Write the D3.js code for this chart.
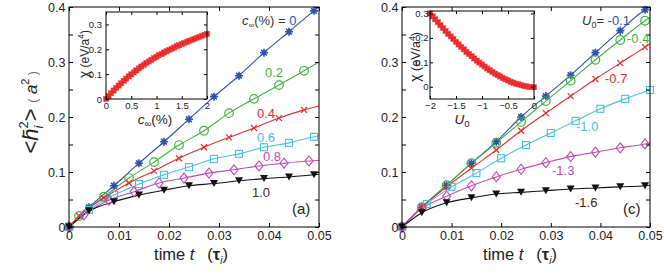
<!DOCTYPE html>
<html><head><meta charset="utf-8">
<script src="https://cdn.jsdelivr.net/npm/d3@7"></script>
<style>body{margin:0;background:#fff} text{font-family:"Liberation Sans",Arial,sans-serif}</style>
</head><body><svg id="c" width="664" height="275"></svg>
<script>
// ---------- data ----------
const xTicks = [0, 0.01, 0.02, 0.03, 0.04, 0.05];
const yTicks = [0, 0.1, 0.2, 0.3, 0.4];
const yMinorTicks = [0, 0.05, 0.1, 0.15, 0.2, 0.25, 0.3, 0.35, 0.4];

// panel (a): c_inf(%) series
const seriesLabelsA = ["0", "0.2", "0.4", "0.6", "0.8", "1.0"];
const tA1 = [0, 0.004, 0.009, 0.014, 0.019, 0.024, 0.029, 0.034, 0.039, 0.044, 0.049];
const tA2 = [0, 0.002, 0.007, 0.012, 0.017, 0.022, 0.027, 0.032, 0.037, 0.042, 0.047];
const tA3 = [0, 0.003, 0.008, 0.013, 0.018, 0.023, 0.028, 0.033, 0.038, 0.043, 0.048];
const hA_0  = [0, 0.036, 0.075, 0.116, 0.155, 0.196, 0.237, 0.275, 0.317, 0.355, 0.393];
const hA_02 = [0, 0.020, 0.055, 0.089, 0.118, 0.149, 0.175, 0.207, 0.233, 0.258, 0.284];
const hA_04 = [0, 0.020, 0.053, 0.080, 0.102, 0.125, 0.145, 0.163, 0.180, 0.198, 0.213];
const hA_06 = [0, 0.031, 0.058, 0.078, 0.095, 0.109, 0.124, 0.133, 0.145, 0.153, 0.164];
const hA_08 = [0, 0.022, 0.049, 0.064, 0.080, 0.089, 0.098, 0.104, 0.111, 0.116, 0.120];
const hA_10 = [0, 0.029, 0.046, 0.058, 0.067, 0.075, 0.079, 0.084, 0.088, 0.091, 0.095];
const endA = [0.400, 0.300, 0.220, 0.166, 0.121, 0.096]; // line values at t = 0.05

// panel (c): U0 series
const seriesLabelsC = ["-0.1", "-0.4", "-0.7", "-1.0", "-1.3", "-1.6"];
const tC1 = [0, 0.004, 0.009, 0.014, 0.019, 0.024, 0.029, 0.034, 0.039, 0.044, 0.049];
const tC2 = [0, 0.005, 0.010, 0.015, 0.020, 0.025, 0.030, 0.035, 0.040, 0.045, 0.050];
const hC_01 = [0, 0.036, 0.076, 0.116, 0.155, 0.200, 0.238, 0.276, 0.317, 0.357, 0.395];
const hC_04 = [0, 0.036, 0.076, 0.116, 0.153, 0.191, 0.229, 0.266, 0.304, 0.340, 0.375];
const hC_07 = [0, 0.036, 0.073, 0.107, 0.140, 0.175, 0.207, 0.238, 0.269, 0.298, 0.327];
const hC_10 = [0, 0.042, 0.073, 0.098, 0.125, 0.149, 0.171, 0.193, 0.215, 0.233, 0.249];
const hC_13 = [0, 0.034, 0.056, 0.075, 0.091, 0.105, 0.117, 0.128, 0.136, 0.144, 0.151];
const hC_16 = [0, 0.026, 0.044, 0.053, 0.060, 0.063, 0.066, 0.069, 0.071, 0.073, 0.075];
const endC = [0.400, 0.381, 0.333, 0.249, 0.153, 0.076];

// inset (a): chi vs c_inf
const cInf = [0,0.05,0.1,0.15,0.2,0.25,0.3,0.35,0.4,0.45,0.5,0.55,0.6,0.65,0.7,0.75,0.8,0.85,0.9,0.95,1,
  1.05,1.1,1.15,1.2,1.25,1.3,1.35,1.4,1.45,1.5,1.55,1.6,1.65,1.7,1.75,1.8,1.85,1.9,1.95,2];
const chiA = [0,0.012,0.023,0.034,0.044,0.054,0.063,0.073,0.082,0.091,0.099,0.107,0.115,0.123,0.131,0.138,
  0.145,0.151,0.158,0.164,0.170,0.176,0.181,0.187,0.192,0.197,0.202,0.207,0.212,0.216,0.221,0.225,0.229,
  0.234,0.238,0.242,0.246,0.250,0.254,0.258,0.262];
const insetAxTicks = [0, 0.5, 1, 1.5, 2];
const insetAyTicks = [0, 0.1, 0.2, 0.3];

// inset (c): chi vs U0
const U0 = [-2,-1.95,-1.9,-1.85,-1.8,-1.75,-1.7,-1.65,-1.6,-1.55,-1.5,-1.45,-1.4,-1.35,-1.3,-1.25,-1.2,-1.15,
  -1.1,-1.05,-1,-0.95,-0.9,-0.85,-0.8,-0.75,-0.7,-0.65,-0.6,-0.55,-0.5,-0.45,-0.4,-0.35,-0.3,-0.25,-0.2,
  -0.15,-0.1,-0.05,0];
const chiC = [0.300,0.288,0.276,0.264,0.252,0.240,0.228,0.217,0.206,0.195,0.184,0.173,0.163,0.153,0.143,
  0.134,0.125,0.116,0.107,0.099,0.091,0.083,0.075,0.068,0.061,0.054,0.048,0.042,0.036,0.031,0.026,0.021,
  0.017,0.013,0.010,0.007,0.004,0.002,0.000,-0.001,-0.002];
const insetCxTicks = [-2, -1.5, -1, -0.5, 0];
const insetCyTicks = [0, 0.1, 0.2, 0.3];

// ---------- style ----------
const colors = ["#3150b0", "#3cb43c", "#e82a2a", "#44c2dc", "#c24ab8", "#111111"];
const markers = ["star", "circle", "cross", "square", "diamond", "tri"];
const FONT = '"Liberation Sans",Arial,sans-serif';

const svg = d3.select("#c");
svg.append("rect").attr("width", 664).attr("height", 275).attr("fill", "#fff");

function frame(g, x, y, o) {
  const [x0, x1] = x.range(), [yb, yt] = y.range();
  g.append("rect").attr("x", x0).attr("y", yt).attr("width", x1 - x0).attr("height", yb - yt)
    .attr("fill", o.fill || "none").attr("stroke", "#000").attr("stroke-width", 1);
  const clean = s => { s.select(".domain").remove(); s.selectAll("line").attr("stroke", "#000"); s.selectAll("text").attr("font-family", FONT).attr("font-size", o.fs).attr("fill", "#222"); };
  g.append("g").attr("transform", `translate(0,${yb})`)
    .call(d3.axisBottom(x).tickValues(o.xt).tickSize(-o.len).tickPadding(o.px).tickFormat(o.fx)).call(clean);
  g.append("g").attr("transform", `translate(0,${yt})`)
    .call(d3.axisTop(x).tickValues(o.xt).tickSize(-o.len).tickFormat("")).call(clean);
  g.append("g").attr("transform", `translate(${x0},0)`)
    .call(d3.axisLeft(y).tickValues(o.ytm).tickSize(-o.len).tickFormat("")).call(clean);
  g.append("g").attr("transform", `translate(${x1},0)`)
    .call(d3.axisRight(y).tickValues(o.ytm).tickSize(-o.len).tickFormat("")).call(clean);
  g.append("g").attr("transform", `translate(${x0},0)`)
    .call(d3.axisLeft(y).tickValues(o.yt).tickSize(0).tickPadding(o.py).tickFormat(o.fy)).call(clean);
}

function marker(g, type, cx, cy, col) {
  const m = g.append("g").attr("transform", `translate(${cx},${cy})`);
  if (type === "star") {
    const r = 4;
    m.append("path").attr("d", `M${-r},0L${r},0M0,${-r}L0,${r}M${-r*0.72},${-r*0.72}L${r*0.72},${r*0.72}M${-r*0.72},${r*0.72}L${r*0.72},${-r*0.72}`)
      .attr("stroke", col).attr("stroke-width", 1.6);
    m.append("circle").attr("r", 2).attr("fill", col);
  } else if (type === "circle") {
    m.append("circle").attr("r", 4.3).attr("fill", "none").attr("stroke", col).attr("stroke-width", 1.2);
  } else if (type === "cross") {
    const r = 3;
    m.append("path").attr("d", `M${-r},${-r}L${r},${r}M${-r},${r}L${r},${-r}`).attr("stroke", col).attr("stroke-width", 1.2);
  } else if (type === "square") {
    m.append("rect").attr("x", -3.5).attr("y", -3.5).attr("width", 7).attr("height", 7)
      .attr("fill", "none").attr("stroke", col).attr("stroke-width", 1.1);
  } else if (type === "diamond") {
    m.append("path").attr("d", "M0,-5L4,0L0,5L-4,0Z").attr("fill", "none").attr("stroke", col).attr("stroke-width", 1.1);
  } else if (type === "tri") {
    m.append("path").attr("d", "M-4,-3.5L4,-3.5L0,3.5Z").attr("fill", col);
  }
}

function mainPanel(x, y, times, values, ends) {
  const g = svg.append("g");
  const line = d3.line().x(d => x(d[0])).y(d => y(d[1])).curve(d3.curveMonotoneX);
  values.forEach((v, i) => {
    const pts = times[i].map((t, j) => [t, v[j]]);
    pts.push([0.05, ends[i]]);
    g.append("path").attr("d", line(pts)).attr("fill", "none").attr("stroke", colors[i]).attr("stroke-width", 1.1);
  });
  values.forEach((v, i) => {
    times[i].forEach((t, j) => marker(g, markers[i], x(t), y(v[j]), colors[i]));
  });
  frame(g, x, y, {xt: xTicks, yt: yTicks, ytm: yMinorTicks, len: 4, px: 4, py: 3.5, fs: 12.5,
    fx: d => d === 0 ? "0" : d.toFixed(2), fy: d => d === 0 ? "0" : d.toFixed(1)});
  return g;
}

// ---------- panel (a) ----------
const xa = d3.scaleLinear().domain([0, 0.05]).range([69, 319]);
const ya = d3.scaleLinear().domain([0, 0.4]).range([227, 7]);
mainPanel(xa, ya, [tA1, tA2, tA2, tA1, tA3, tA1], [hA_0, hA_02, hA_04, hA_06, hA_08, hA_10], endA);

// ---------- panel (c) ----------
const xc = d3.scaleLinear().domain([0, 0.05]).range([402, 650]);
const yc = d3.scaleLinear().domain([0, 0.4]).range([227, 7]);
mainPanel(xc, yc, [tC1, tC1, tC1, tC2, tC1, tC1], [hC_01, hC_04, hC_07, hC_10, hC_13, hC_16], endC);

// ---------- insets ----------
function inset(x, y, xs, ys, o) {
  const g = svg.append("g");
  g.append("rect").attr("x", x.range()[0]).attr("y", y.range()[1]).attr("width", x.range()[1] - x.range()[0])
    .attr("height", y.range()[0] - y.range()[1]).attr("fill", "#fff");
  const line = d3.line().x((d, i) => x(xs[i])).y(d => y(d));
  g.append("path").attr("d", line(ys)).attr("fill", "none").attr("stroke", "#e82020").attr("stroke-width", 2);
  ys.forEach((v, i) => g.append("rect").attr("x", x(xs[i]) - 2.6).attr("y", y(v) - 2.6).attr("width", 5.2).attr("height", 5.2)
    .attr("fill", "#ea2424").attr("stroke", "#f05050").attr("stroke-width", 0.5));
  frame(g, x, y, {xt: o.xt, yt: o.yt, ytm: o.yt, len: 3, px: 3.5, py: o.py, fs: 9.5, fx: o.fx, fy: d => d === 0 ? "0" : d.toFixed(1)});
  return g;
}
const xia = d3.scaleLinear().domain([0, 2]).range([106, 207]);
const yia = d3.scaleLinear().domain([0, 0.35]).range([99, 12]);
inset(xia, yia, cInf, chiA, {xt: insetAxTicks, yt: insetAyTicks, py: 4, fx: d => String(d)});

const xic = d3.scaleLinear().domain([-2, 0]).range([430, 534]);
const yic = d3.scaleLinear().domain([-0.05, 0.31]).range([99, 11]);
inset(xic, yic, U0, chiC, {xt: insetCxTicks, yt: insetCyTicks, py: 1.5, fx: d => d === 0 ? "0" : "\u2212" + Math.abs(d)});

// ---------- texts ----------
function txt(x, y, s, size, col, opts = {}) {
  const t = svg.append("text").attr("x", x).attr("y", y).attr("font-size", size).attr("fill", col).attr("font-family", FONT);
  if (opts.anchor) t.attr("text-anchor", opts.anchor);
  if (s) t.text(s);
  return t;
}
// legend labels (a)
const l0 = txt(242, 25, null, 13, "#333");
l0.append("tspan").attr("font-style", "italic").text("c");
l0.append("tspan").attr("font-size", 8).attr("dy", 3).text("\u221e");
l0.append("tspan").attr("dy", -3).text("(%) = ");
l0.append("tspan").attr("fill", colors[0]).text(seriesLabelsA[0]);
const posA = [null, [265, 77], [257, 118], [257, 142], [263, 161], [252, 197]];
posA.forEach((p, i) => { if (p) txt(p[0], p[1], seriesLabelsA[i], 13, i === 5 ? "#3a2a20" : colors[i]); });
txt(292, 214, "(a)", 15, "#222");

// legend labels (c)
const lc = txt(582, 25, null, 13, "#3a2a20");
lc.append("tspan").attr("font-style", "italic").text("U");
lc.append("tspan").attr("font-size", 9).attr("dy", 3).text("0");
lc.append("tspan").attr("dy", -3).text("=");
lc.append("tspan").attr("fill", colors[0]).text(" " + seriesLabelsC[0]);
const posC = [null, [627, 43], [605, 83], [576, 131], [552, 175], [575, 207]];
posC.forEach((p, i) => { if (p) txt(p[0], p[1], seriesLabelsC[i], 13, i === 5 ? "#3a2a20" : colors[i]); });
txt(623, 214, "(c)", 15, "#222");

// x labels
[191, 520].forEach(cx => {
  const t = txt(cx, 260, null, 16.5, "#222", {anchor: "middle"});
  t.append("tspan").text("time ");
  t.append("tspan").attr("font-style", "italic").text("t");
  t.append("tspan").text("\u2002 (");
  t.append("tspan").attr("font-weight", "bold").text("\u03c4");
  t.append("tspan").attr("font-size", 10).attr("dy", 4).attr("font-style", "italic").text("i");
  t.append("tspan").attr("dy", -4).text(")");
});

// y label (a)
const yl = svg.append("text").attr("transform", "translate(38,131) rotate(-90)").attr("text-anchor", "middle")
  .attr("font-size", 22).attr("fill", "#222").attr("font-family", FONT);
yl.append("tspan").text("<");
yl.append("tspan").attr("font-style", "italic").text("h\u0304");
yl.append("tspan").attr("font-size", 13).attr("dy", 5).attr("font-style", "italic").text("i");
yl.append("tspan").attr("font-size", 13).attr("dx", -3).attr("dy", -15).text("2");
yl.append("tspan").attr("dy", 10).text(">");
const yl2 = svg.append("text").attr("transform", "translate(37,87) rotate(-90)").attr("text-anchor", "middle")
  .attr("font-size", 17).attr("fill", "#222").attr("font-family", FONT);
yl2.append("tspan").attr("font-size", 12).attr("fill", "#666").text("(");
yl2.append("tspan").attr("font-style", "italic").text(" a");
yl2.append("tspan").attr("font-size", 11).attr("dy", -8).text("2");
yl2.append("tspan").attr("font-size", 12).attr("fill", "#666").attr("dy", 8).text(" )");

// inset labels
function chiLabel(x, y, fs) {
  const t = svg.append("text").attr("transform", `translate(${x},${y}) rotate(-90)`).attr("text-anchor", "middle")
    .attr("font-size", fs).attr("fill", "#222").attr("font-family", FONT);
  t.append("tspan").attr("font-size", fs * 1.15).text("\u03c7");
  t.append("tspan").text(" (eV/a");
  t.append("tspan").attr("font-size", fs * 0.7).attr("dy", -5).text("4");
  t.append("tspan").attr("dy", 5).text(")");
}
chiLabel(89, 54, 12);
chiLabel(420, 57, 12.5);

const ci = txt(155, 124, null, 13.5, "#222", {anchor: "middle"});
ci.append("tspan").attr("font-style", "italic").text("c");
ci.append("tspan").attr("font-size", 9.5).attr("dy", 3).text("\u221e");
ci.append("tspan").attr("dy", -3).text("(%)");
const ui = txt(462, 124, null, 13.5, "#222", {anchor: "middle"});
ui.append("tspan").attr("font-style", "italic").text("U");
ui.append("tspan").attr("font-size", 9.5).attr("dy", 3).text("0");
</script></body></html>
